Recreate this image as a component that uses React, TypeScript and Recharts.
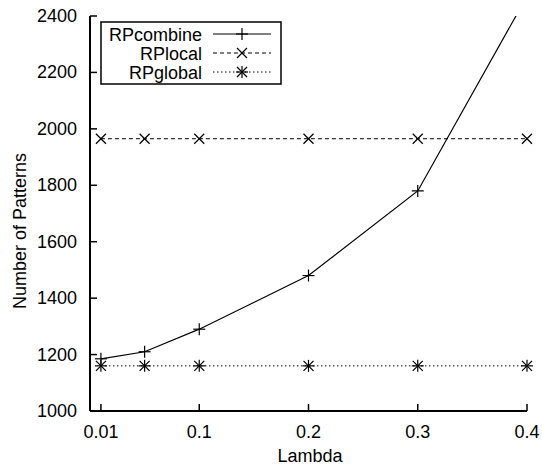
import React from 'react';
import { LineChart, Line, XAxis, YAxis } from 'recharts';

// lambda values and pattern counts
const lambdas = [0.01, 0.05, 0.1, 0.2, 0.3, 0.4];
const rpCombine = [1185, 1210, 1290, 1480, 1780, 2470];
const rpLocal = [1965, 1965, 1965, 1965, 1965, 1965];
const rpGlobal = [1160, 1160, 1160, 1160, 1160, 1160];

const seriesNames = ['RPcombine', 'RPlocal', 'RPglobal'];
const xTicks = [0.01, 0.1, 0.2, 0.3, 0.4];
const yTicks = [1000, 1200, 1400, 1600, 1800, 2000, 2200, 2400];

const data = lambdas.map((l, i) => ({
  lambda: l,
  combine: rpCombine[i],
  local: rpLocal[i],
  global: rpGlobal[i],
}));

const FONT = '"Liberation Sans", Arial, Helvetica, sans-serif';
const FS = 18;
const AXIS = { stroke: '#000', strokeWidth: 2 };

type Kind = 'plus' | 'cross' | 'star';

const Marker = ({ cx, cy, kind }: { cx: number; cy: number; kind: Kind }) => {
  const p = 6;
  const c = 5;
  return (
    <g stroke="#000" strokeWidth={1.2} fill="none">
      {(kind === 'plus' || kind === 'star') && (
        <>
          <line x1={cx - p} y1={cy} x2={cx + p} y2={cy} />
          <line x1={cx} y1={cy - p} x2={cx} y2={cy + p} />
        </>
      )}
      {(kind === 'cross' || kind === 'star') && (
        <>
          <line x1={cx - c} y1={cy - c} x2={cx + c} y2={cy + c} />
          <line x1={cx - c} y1={cy + c} x2={cx + c} y2={cy - c} />
        </>
      )}
    </g>
  );
};

const dotFor = (kind: Kind) => (props: any) => {
  if (props.cx == null || props.cy == null) return <g key={props.index} />;
  return <Marker key={`${kind}-${props.index}`} cx={props.cx} cy={props.cy} kind={kind} />;
};

const BottomTick = ({ x, y, payload }: any) => (
  <g>
    <line x1={x} y1={y} x2={x} y2={y - 7} stroke="#000" strokeWidth={1.5} />
    <text x={x} y={y + 27} textAnchor="middle" fontFamily={FONT} fontSize={FS} fill="#000">
      {payload.value}
    </text>
  </g>
);

const TopTick = ({ x, y }: any) => (
  <line x1={x} y1={y} x2={x} y2={y + 7} stroke="#000" strokeWidth={1.5} />
);

const LeftTick = ({ x, y, payload }: any) => (
  <g>
    <line x1={x} y1={y} x2={x + 7} y2={y} stroke="#000" strokeWidth={1.5} />
    <text x={x - 13} y={y + 6} textAnchor="end" fontFamily={FONT} fontSize={FS} fill="#000">
      {payload.value}
    </text>
  </g>
);

const RightTick = ({ x, y }: any) => (
  <line x1={x} y1={y} x2={x - 7} y2={y} stroke="#000" strokeWidth={1.5} />
);

const styles: { dash?: string; kind: Kind }[] = [
  { kind: 'plus' },
  { dash: '4 3', kind: 'cross' },
  { dash: '1.5 2.5', kind: 'star' },
];

const LegendBox = () => (
  <svg width={184} height={66} style={{ position: 'absolute', left: 100, top: 21 }}>
    <rect x={1} y={1} width={180} height={62} fill="#fff" stroke="#000" strokeWidth={1.5} />
    {seriesNames.map((name, i) => {
      const cy = 13 + i * 19;
      return (
        <g key={name}>
          <text x={102} y={cy + 6.5} textAnchor="end" fontFamily={FONT} fontSize={FS} fill="#000">
            {name}
          </text>
          <line x1={113} y1={cy} x2={171} y2={cy} stroke="#000" strokeWidth={1} strokeDasharray={styles[i].dash} />
          <Marker cx={142} cy={cy} kind={styles[i].kind} />
        </g>
      );
    })}
  </svg>
);

export default function App() {
  return (
    <div style={{ position: 'absolute', left: 0, top: 0, width: 542, height: 466, background: '#fff' }}>
      <LineChart width={542} height={466} data={data} margin={{ top: 16, right: 15, left: 0, bottom: 0 }}>
        <XAxis
          dataKey="lambda"
          type="number"
          domain={[0, 0.4]}
          ticks={xTicks}
          height={55}
          axisLine={AXIS}
          tickLine={false}
          tickSize={0}
          tickMargin={0}
          tick={<BottomTick />}
          interval={0}
        />
        <XAxis
          xAxisId="top"
          dataKey="lambda"
          type="number"
          orientation="top"
          domain={[0, 0.4]}
          ticks={xTicks}
          height={0}
          axisLine={AXIS}
          tickLine={false}
          tickSize={0}
          tickMargin={0}
          tick={<TopTick />}
          interval={0}
        />
        <YAxis
          type="number"
          domain={[1000, 2400]}
          ticks={yTicks}
          allowDataOverflow
          width={90}
          axisLine={AXIS}
          tickLine={false}
          tickSize={0}
          tickMargin={0}
          tick={<LeftTick />}
          interval={0}
        />
        <YAxis
          yAxisId="right"
          type="number"
          orientation="right"
          domain={[1000, 2400]}
          ticks={yTicks}
          allowDataOverflow
          width={0}
          axisLine={AXIS}
          tickLine={false}
          tickSize={0}
          tickMargin={0}
          tick={<RightTick />}
          interval={0}
        />
        <Line dataKey="combine" name={seriesNames[0]} stroke="#000" strokeWidth={1.2} dot={dotFor('plus')} isAnimationActive={false} />
        <Line dataKey="local" name={seriesNames[1]} stroke="#000" strokeWidth={1} strokeDasharray="4 3" dot={dotFor('cross')} isAnimationActive={false} />
        <Line dataKey="global" name={seriesNames[2]} stroke="#000" strokeWidth={1} strokeDasharray="1.5 2.5" dot={dotFor('star')} isAnimationActive={false} />
      </LineChart>
      <LegendBox />
      <div
        style={{
          position: 'absolute',
          left: 20,
          top: 231,
          transform: 'translate(-50%, -50%) rotate(-90deg)',
          fontFamily: FONT,
          fontSize: FS,
          whiteSpace: 'nowrap',
        }}
      >
        Number of Patterns
      </div>
      <div
        style={{
          position: 'absolute',
          left: 310,
          top: 456,
          transform: 'translate(-50%, -50%)',
          fontFamily: FONT,
          fontSize: FS,
        }}
      >
        Lambda
      </div>
    </div>
  );
}
